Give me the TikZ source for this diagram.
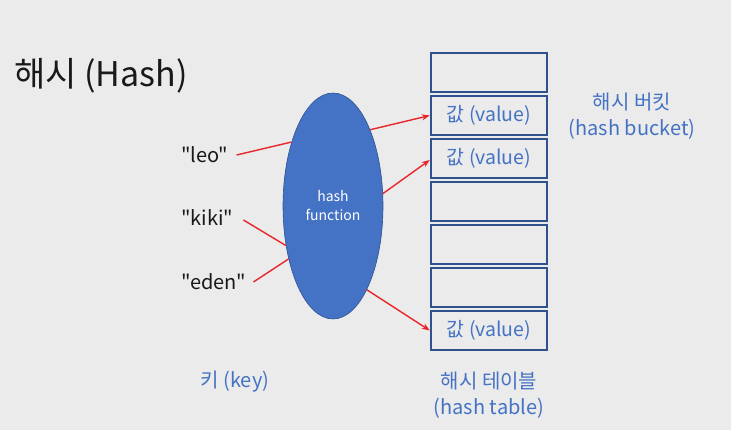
\documentclass[tikz,border=0pt]{standalone}
\usepackage{fontspec}
\setmainfont{Noto Sans CJK KR}
\newfontfamily\plainfont{Noto Sans CJK KR}
\usetikzlibrary{shapes.geometric,arrows.meta}
\definecolor{bg}{HTML}{EBEBEB}
\definecolor{cellline}{HTML}{2F528F}
\definecolor{fnblue}{HTML}{4472C4}
\definecolor{lblblue}{HTML}{4472C4}
\definecolor{arrred}{HTML}{E8262A}
\begin{document}
\begin{tikzpicture}[x=1pt,y=-1pt,
  cell/.style={draw=cellline,line width=2.4pt,fill=bg,minimum width=116pt,minimum height=39.5pt,inner sep=0pt},
  keytxt/.style={font=\plainfont\fontsize{20}{22}\selectfont,text=black!90,anchor=west,inner sep=0pt},
  lbl/.style={font=\plainfont\fontsize{20}{26}\selectfont,text=lblblue,align=center,inner sep=0pt},
  valtxt/.style={font=\plainfont\fontsize{19.5}{21}\selectfont,text=lblblue},
  conn/.style={draw=arrred,line width=1.4pt},
  tip/.style={-{Stealth[length=8pt,width=6pt]}}]
\fill[bg] (0,0) rectangle (731,430);
\useasboundingbox (0,0) rectangle (731,430);
% title
\node[anchor=west,inner sep=0pt,font=\plainfont\fontsize{34}{38}\selectfont,text=black!90] (title) at (14,76) {해시 (Hash)};
% hash table cells
\foreach \i in {1,...,7}{
  \node[cell] (c\i) at (489,{72.5+43*(\i-1)}) {};
}
\node[valtxt] at (c2) {값 (value)};
\node[valtxt] at (c3) {값 (value)};
\node[valtxt] at (c7) {값 (value)};
% hash function
\node[ellipse,draw=cellline,line width=0.6pt,fill=fnblue,minimum width=100pt,minimum height=226pt,inner sep=0pt,
      text=white,align=center,font=\plainfont\fontsize{14}{19}\selectfont] (hf) at (333,206) {hash\\function};
% keys
\node[keytxt] (leo) at (181,155) {"leo"};
\node[keytxt] (kiki) at (181,218) {"kiki"};
\node[keytxt] (eden) at (181,282) {"eden"};
% connectors
\draw[conn] ([xshift=8pt]leo.east) -- (hf.123.7);
\draw[conn] ([xshift=10pt,yshift=-2pt]kiki.east) -- (hf.220.4);
\draw[conn] ([xshift=7pt]eden.east) -- (hf.230.8);
\draw[conn,tip] (hf.64.6) -- (c2.west);
\draw[conn,tip] (hf.14.6) -- ([yshift=-1.5pt]c3.west);
\draw[conn,tip] (hf.-68.7) -- (c7.west);
% labels
\node[lbl] (bucket) at (632,116.5) {해시 버킷\\(hash bucket)};
\node[lbl] (key) at (235,382) {키 (key)};
\node[lbl] (tbl) at (489,395.5) {해시 테이블\\(hash table)};
\end{tikzpicture}
\end{document}
